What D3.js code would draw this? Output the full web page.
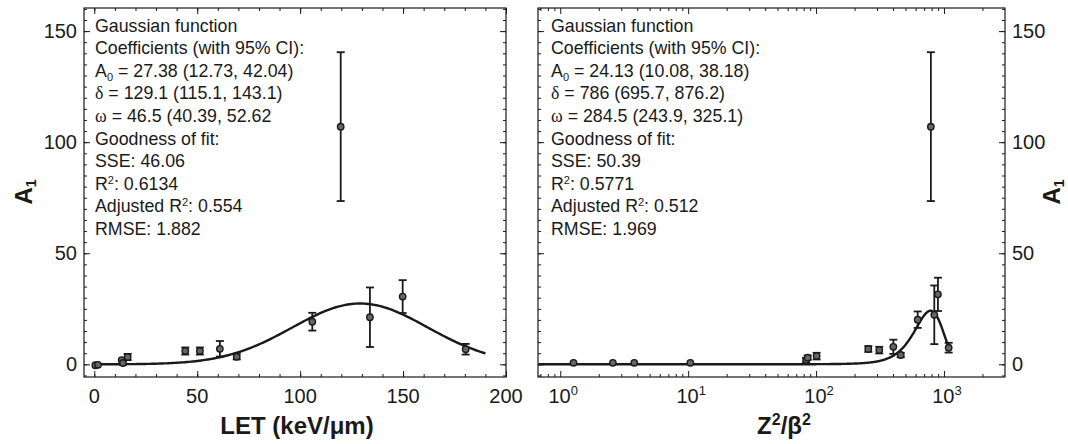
<!DOCTYPE html>
<html>
<head>
<meta charset="utf-8">
<script src="https://cdn.jsdelivr.net/npm/d3@7"></script>
<style>
 body { margin: 0; background: #fff; }
 svg { font-family: "Liberation Sans", Arial, sans-serif; }
</style>
</head>
<body>
<svg width="1068" height="444"></svg>
<script>
// data
var letX   = [0.5, 1.8, 13.3, 13.9, 16.2, 44.2, 51.3, 61, 69.2, 105.9, 119.7, 133.9, 149.8, 180.4];
var letA   = [-0.4, -0.2, 1.9, 0.6, 3.3, 6.0, 6.0, 7.0, 3.4, 19.2, 107, 21.2, 30.5, 6.8];
var letErr = [0, 0, 0, 0.8, 1.4, 1.6, 1.6, 3.5, 1.2, 4.0, 33.5, 13.4, 7.4, 2.4];

var zbX   = [1.27, 2.58, 3.79, 10.4, 83.6, 86, 101, 256, 312, 402, 459, 623, 790, 840, 897, 1088];
var zbA   = [0.7, 0.7, 0.7, 0.7, 1.9, 3.0, 3.7, 6.9, 6.4, 7.9, 4.2, 20.1, 107, 22.3, 31.5, 7.5];
var zbErr = [0, 0, 0, 0, 1.0, 1.0, 1.5, 1.3, 1.5, 3.2, 1.0, 3.7, 33.5, 13.2, 7.5, 2.2];

// gaussian fits: A0 * exp(-((x - d) / w)^2)
var fitLeft  = { A0: 27.38, d: 129.1, w: 46.5 };
var fitRight = { A0: 24.13, d: 786, w: 284.5 };

var yTicks = [0, 50, 100, 150];
var letTicks = [0, 50, 100, 150, 200];
var zbTicks = [1, 10, 100, 1000];

var textLeft = ["Gaussian function", "Coefficients (with 95% CI):",
  ["A", "0", " = 27.38 (12.73, 42.04)"], ["\u03b4", " = 129.1 (115.1, 143.1)"], ["\u03c9", " = 46.5 (40.39, 52.62"],
  "Goodness of fit:", "SSE: 46.06", ["R", "2", ": 0.6134"], ["Adjusted R", "2", ": 0.554"], "RMSE: 1.882"];
var textRight = ["Gaussian function", "Coefficients (with 95% CI):",
  ["A", "0", " = 24.13 (10.08, 38.18)"], ["\u03b4", " = 786 (695.7, 876.2)"], ["\u03c9", " = 284.5 (243.9, 325.1)"],
  "Goodness of fit:", "SSE: 50.39", ["R", "2", ": 0.5771"], ["Adjusted R", "2", ": 0.512"], "RMSE: 1.969"];

var svg = d3.select("svg");
var ink = "#1a1a1a";

var y = d3.scaleLinear().domain([-5.7, 160.4]).range([377, 8]);
var xL = d3.scaleLinear().domain([-5, 200]).range([84, 506]);
var xR = d3.scaleLog().domain([0.67, 3000]).range([538, 1005]);

function gauss(f, x) { return f.A0 * Math.exp(-Math.pow((x - f.d) / f.w, 2)); }

function frame(x) {
  var r = x.range();
  var g = svg.append("g");
  var yMinor = d3.range(-5, 161, 5);
  // left/right ticks, pointing inward
  g.append("g").attr("transform", "translate(" + r[0] + ",0)")
    .call(d3.axisLeft(y).tickValues(yMinor).tickSize(-3).tickFormat(""));
  g.append("g").attr("transform", "translate(" + r[0] + ",0)")
    .call(d3.axisLeft(y).tickValues(yTicks).tickSize(-6).tickFormat(""));
  g.append("g").attr("transform", "translate(" + r[1] + ",0)")
    .call(d3.axisRight(y).tickValues(yMinor).tickSize(-3).tickFormat(""));
  g.append("g").attr("transform", "translate(" + r[1] + ",0)")
    .call(d3.axisRight(y).tickValues(yTicks).tickSize(-6).tickFormat(""));
  g.selectAll(".domain").remove();
  g.selectAll("line").attr("stroke", ink).attr("stroke-width", 1);
  return g;
}

function xTicks(g, x, minor, major) {
  [[377, d3.axisBottom], [8, d3.axisTop]].forEach(function(p) {
    g.append("g").attr("transform", "translate(0," + p[0] + ")")
      .call(p[1](x).tickValues(minor).tickSize(-3).tickFormat(""));
    g.append("g").attr("transform", "translate(0," + p[0] + ")")
      .call(p[1](x).tickValues(major).tickSize(-6).tickFormat(""));
  });
  g.selectAll(".domain").remove();
  g.selectAll("line").attr("stroke", ink).attr("stroke-width", 1);
}

function box(x) {
  var r = x.range();
  svg.append("rect").attr("x", r[0]).attr("y", 8)
    .attr("width", r[1] - r[0]).attr("height", 369)
    .attr("fill", "none").attr("stroke", ink).attr("stroke-width", 1.2);
}

// left panel
var gL = frame(xL);
xTicks(gL, xL, d3.range(0, 201, 10), letTicks);
// right panel
var gR = frame(xR);
var logMinor = [];
[0.1, 1, 10, 100, 1000].forEach(function(d) { for (var k = 2; k <= 9; k++) if (d * k > 0.67 && d * k < 3000) logMinor.push(d * k); });
xTicks(gR, xR, logMinor, zbTicks);
box(xL);
box(xR);

// tick labels
var fs = 20;
svg.append("g").selectAll("text").data(yTicks).enter().append("text")
  .attr("x", 77).attr("y", function(d) { return y(d) + 7; })
  .attr("text-anchor", "end").attr("font-size", fs).attr("fill", ink)
  .text(function(d) { return d; });
svg.append("g").selectAll("text").data(yTicks).enter().append("text")
  .attr("x", 1012).attr("y", function(d) { return y(d) + 7; })
  .attr("text-anchor", "start").attr("font-size", fs).attr("fill", ink)
  .text(function(d) { return d; });
svg.append("g").selectAll("text").data(letTicks).enter().append("text")
  .attr("x", function(d) { return xL(d); }).attr("y", 403)
  .attr("text-anchor", "middle").attr("font-size", fs).attr("fill", ink)
  .text(function(d) { return d; });
var zl = svg.append("g").selectAll("text").data(zbTicks).enter().append("text")
  .attr("x", function(d) { return xR(d) + 3; }).attr("y", 403)
  .attr("text-anchor", "middle").attr("font-size", fs).attr("fill", ink);
zl.append("tspan").text("10");
zl.append("tspan").attr("font-size", 13).attr("dy", -8).text(function(d) { return Math.round(Math.log10(d)); });

// axis titles
svg.append("text").attr("x", 297).attr("y", 434).attr("text-anchor", "middle")
  .attr("font-size", 24).attr("font-weight", "bold").attr("fill", ink)
  .text("LET (keV/\u03bcm)");
var zt = svg.append("text").attr("x", 784).attr("y", 434).attr("text-anchor", "middle")
  .attr("font-size", 24).attr("font-weight", "bold").attr("fill", ink);
zt.append("tspan").text("Z");
zt.append("tspan").attr("font-size", 16).attr("dy", -9).text("2");
zt.append("tspan").attr("dy", 9).text("/\u03b2");
zt.append("tspan").attr("font-size", 16).attr("dy", -9).text("2");

[24, 1052].forEach(function(px) {
  var t = svg.append("text").attr("transform", "translate(" + px + ",192) rotate(-90)")
    .attr("text-anchor", "middle").attr("font-size", 24).attr("font-weight", "bold").attr("fill", ink)
    .attr("dy", 8);
  t.append("tspan").text("A");
  t.append("tspan").attr("font-size", 14).attr("dy", 4).text("1");
});

// annotation boxes
function notes(lines, x0) {
  lines.forEach(function(l, i) {
    var t = svg.append("text").attr("x", x0).attr("y", 31.5 + i * 22.6)
      .attr("font-size", 17.8).attr("fill", ink);
    if (typeof l === "string") { t.text(l); return; }
    if (l.length === 2) {
      t.append("tspan").attr("font-family", "Liberation Serif, serif").text(l[0]);
      t.append("tspan").text(l[1]);
    } else if (l[1] === "0") {
      t.append("tspan").text(l[0]);
      t.append("tspan").attr("font-size", 11).attr("dy", 4).text(l[1]);
      t.append("tspan").attr("dy", -4).text(l[2]);
    } else {
      t.append("tspan").text(l[0]);
      t.append("tspan").attr("font-size", 11).attr("dy", -6).text(l[1]);
      t.append("tspan").attr("dy", 6).text(l[2]);
    }
  });
}
notes(textLeft, 95);
notes(textRight, 551);

// fitted curves
var lineL = d3.line().x(function(d) { return xL(d); }).y(function(d) { return y(gauss(fitLeft, d)); });
svg.append("path").datum(d3.range(0, 190.5, 1)).attr("d", lineL)
  .attr("fill", "none").attr("stroke", ink).attr("stroke-width", 2.4);
var lineR = d3.line().x(function(d) { return xR(d); }).y(function(d) { return y(gauss(fitRight, d)); });
var rs = d3.range(-0.17, 3.035, 0.005).map(function(e) { return Math.pow(10, e); });
svg.append("path").datum(rs).attr("d", lineR)
  .attr("fill", "none").attr("stroke", ink).attr("stroke-width", 2.4);

// error bars and points
function points(x, xs, as, es) {
  var data = xs.map(function(v, i) { return { x: v, a: as[i], e: es[i] }; });
  var g = svg.append("g");
  var eb = g.selectAll("g.eb").data(data.filter(function(d) { return d.e > 0; })).enter().append("g")
    .attr("stroke", ink).attr("stroke-width", 1.8);
  eb.append("line").attr("x1", function(d) { return x(d.x); }).attr("x2", function(d) { return x(d.x); })
    .attr("y1", function(d) { return y(d.a - d.e); }).attr("y2", function(d) { return y(d.a + d.e); });
  [-1, 1].forEach(function(s) {
    eb.append("line").attr("x1", function(d) { return x(d.x) - 4; }).attr("x2", function(d) { return x(d.x) + 4; })
      .attr("y1", function(d) { return y(d.a + s * d.e); }).attr("y2", function(d) { return y(d.a + s * d.e); });
  });
  g.selectAll("circle").data(data).enter().append("circle")
    .attr("cx", function(d) { return x(d.x); }).attr("cy", function(d) { return y(d.a); })
    .attr("r", 3.2).attr("fill", "#666").attr("stroke", ink).attr("stroke-width", 1.4);
}
points(xL, letX, letA, letErr);
points(xR, zbX, zbA, zbErr);
</script>
</body>
</html>
